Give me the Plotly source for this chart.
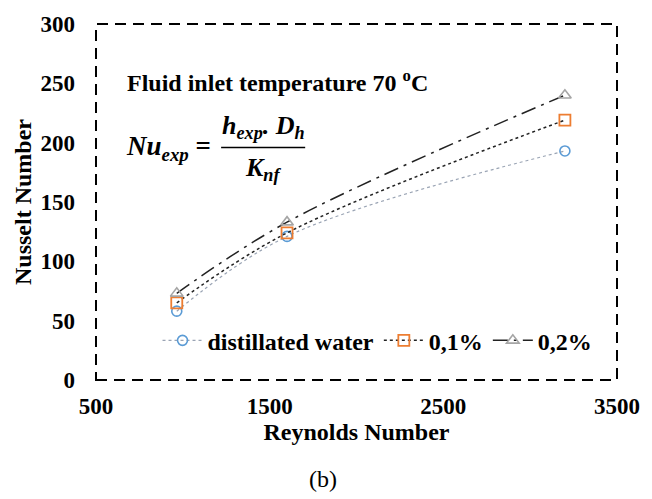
import plotly.graph_objects as go

# ---- data ----
reynolds_water = [965, 1600, 3200]
nusselt_water = [58, 121, 193]
reynolds_01 = [965, 1600, 3200]
nusselt_01 = [65, 124, 219]
reynolds_02 = [965, 1600, 3200]
nusselt_02 = [73, 133, 240]
series_names = ["distillated water", "0,1%", "0,2%"]
y_ticks = [0, 50, 100, 150, 200, 250, 300]
x_ticks = [500, 1500, 2500, 3500]

FONT = "Liberation Serif, Times New Roman, serif"

# plot area in pixels
W, H = 652, 499
L, R, T, B = 96, 629, 17, 380


def px(xp):
    return (xp - L) / (R - L)


def py(yp):
    return (B - yp) / (B - T)


fig = go.Figure()
fig.add_trace(go.Scatter(
    x=reynolds_water, y=nusselt_water, name=f"<b>{series_names[0]}</b>",
    mode="lines+markers", line=dict(shape="spline", color="#9aa4b4", width=1.2, dash="dot"),
    marker=dict(symbol="circle-open", size=10, color="#5B9BD5", line=dict(width=1.6))))
fig.add_trace(go.Scatter(
    x=reynolds_01, y=nusselt_01, name=f"<b>{series_names[1]}</b>",
    mode="lines+markers", line=dict(shape="spline", color="#222222", width=1.5, dash="dot"),
    marker=dict(symbol="square-open", size=11, color="#ED7D31", line=dict(width=1.8))))
fig.add_trace(go.Scatter(
    x=reynolds_02, y=nusselt_02, name=f"<b>{series_names[2]}</b>",
    mode="lines+markers", line=dict(shape="spline", color="#222222", width=1.5, dash="longdashdot"),
    marker=dict(symbol="triangle-up-open", size=11, color="#A5A5A5", line=dict(width=1.6))))

fig.update_layout(
    width=W, height=H,
    margin=dict(l=L, r=W - R, t=T, b=H - B),
    paper_bgcolor="white", plot_bgcolor="white",
    font=dict(family=FONT, color="black"),
    showlegend=True,
    legend=dict(orientation="h", x=px(384), xanchor="center", y=py(340), yanchor="middle",
                font=dict(family=FONT, size=24, color="black"), bgcolor="rgba(0,0,0,0)",
                itemwidth=40, tracegroupgap=0),
    xaxis=dict(range=[500, 3500], tickvals=x_ticks, ticktext=[f"<b>{v}</b>" for v in x_ticks],
               showgrid=False, zeroline=False, showline=False, ticks="",
               tickfont=dict(family=FONT, size=23, color="black"), ticklabelstandoff=10,
               title=dict(text="<b>Reynolds Number</b>", font=dict(family=FONT, size=24, color="black"),
                          standoff=2)),
    yaxis=dict(range=[0, 300], tickvals=y_ticks, ticktext=[f"<b>{v}</b>" for v in y_ticks],
               showgrid=False, zeroline=False, showline=False, ticks="",
               tickfont=dict(family=FONT, size=23, color="black"), ticklabelstandoff=20,
               title=dict(text="<b>Nusselt Number</b>", font=dict(family=FONT, size=24, color="black"),
                          standoff=2)),
)

# dashed plot-area border
fig.add_shape(type="rect", xref="paper", yref="paper", x0=0, x1=1, y0=0, y1=1,
              line=dict(color="black", width=2, dash="11px,7px"), layer="above")

# annotations
fig.add_annotation(xref="paper", yref="paper", x=px(126), y=py(75), xanchor="left", yanchor="middle",
                   text="<b>Fluid inlet temperature 70 <sup>o</sup>C</b>", showarrow=False,
                   font=dict(family=FONT, size=24, color="black"))
fig.add_annotation(xref="paper", yref="paper", x=px(125), y=py(143), xanchor="left", yanchor="middle",
                   text="<b><i>Nu<sub>exp</sub></i> =</b>", showarrow=False,
                   font=dict(family=FONT, size=27, color="black"))
fig.add_annotation(xref="paper", yref="paper", x=px(267), y=py(122), xanchor="center", yanchor="middle",
                   text="<b><i>h<sub>exp</sub>. D<sub>h</sub></i></b>", showarrow=False,
                   font=dict(family=FONT, size=26, color="black"))
fig.add_annotation(xref="paper", yref="paper", x=px(267), y=py(165), xanchor="center", yanchor="middle",
                   text="<b><i>K<sub>nf</sub></i></b>", showarrow=False,
                   font=dict(family=FONT, size=26, color="black"))
fig.add_shape(type="line", xref="paper", yref="paper", x0=px(224), x1=px(310), y0=py(143), y1=py(143),
              line=dict(color="black", width=1.5))
fig.add_annotation(xref="paper", yref="paper", x=px(328), y=py(481),
                   xanchor="center", yanchor="middle", text="(b)", showarrow=False,
                   font=dict(family=FONT, size=24, color="black"))

fig.write_html("out.html")
